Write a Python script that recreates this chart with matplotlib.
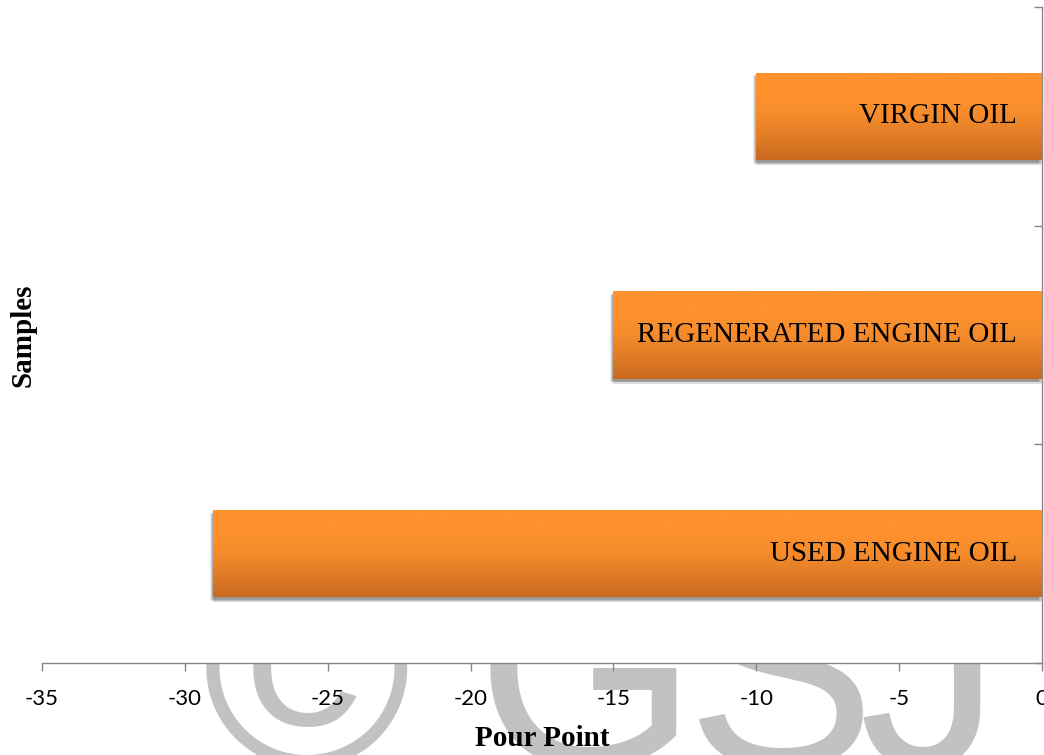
import numpy as np
import matplotlib.pyplot as plt
import matplotlib.patheffects as pe
from matplotlib.colors import LinearSegmentedColormap

# Pour point of each oil sample
samples = ["USED ENGINE OIL", "REGENERATED ENGINE OIL", "VIRGIN OIL"]
pour_point = [-29, -15, -10]
x_ticks = [-35, -30, -25, -20, -15, -10, -5, 0]

AXIS_GREY = "#868686"

fig = plt.figure(figsize=(10.44, 7.55), dpi=100)
ax = fig.add_axes([0.0402, 0.1219, 0.958, 0.8688])

# Journal watermark sitting behind the plot area
for ch, xc in zip(["\u00a9", "G", "S", "J"], [307, 586, 780, 930]):
    fig.text(xc / 1044, -11 / 755, ch, ha="center", va="baseline",
             fontsize=205, family="Liberation Sans", color="#c2c2c2", zorder=-1)

# Orange gradient, lighter on top, darker at the bottom
orange = LinearSegmentedColormap.from_list(
    "orange", ["#c9681f", "#e07c26", "#f58b2c", "#fe922d", "#fe922d"])
grad = np.linspace(0, 1, 256).reshape(-1, 1)

# Soft drop shadow built from a few offset copies
shadow = [pe.SimplePatchShadow(offset=(dx, dy), shadow_rgbFace="black", alpha=0.07)
          for dx, dy in [(-1.5, -1.5), (-1, -2), (0, -2.5), (-2, -2.5),
                         (-1, -3.5), (0.5, -3.5), (-2.5, -2)]]
shadow.append(pe.Normal())

pos = np.arange(len(samples)) + 0.5
bars = ax.barh(pos, pour_point, height=0.4, color="#f08a2a", linewidth=0, zorder=2)
for bar, name in zip(bars, samples):
    bar.set_path_effects(shadow)
    x0 = min(bar.get_x(), bar.get_x() + bar.get_width())
    x1 = max(bar.get_x(), bar.get_x() + bar.get_width())
    y0, h = bar.get_y(), bar.get_height()
    im = ax.imshow(grad, cmap=orange, extent=(x0, x1, y0, y0 + h), origin="lower",
                   aspect="auto", interpolation="bilinear", zorder=3)
    im.set_clip_path(bar)
    ax.annotate(name, xy=(0, y0 + h / 2), xytext=(-18, 0), textcoords="offset points",
                ha="right", va="center", fontsize=21, family="Liberation Serif",
                color="black", zorder=4)

ax.set_xlim(-35, 0)
ax.set_ylim(0, 3)
ax.set_xticks(x_ticks)
ax.set_xticklabels([str(t) for t in x_ticks], fontsize=16, family="Lato")

ax.yaxis.tick_right()
ax.set_yticks([0, 1, 2, 3])
ax.set_yticklabels([])
ax.tick_params(axis="y", direction="in", length=6, color=AXIS_GREY, width=1)
ax.tick_params(axis="x", direction="out", length=6, color=AXIS_GREY, width=1, pad=13)

for side in ["left", "top"]:
    ax.spines[side].set_visible(False)
for side in ["bottom", "right"]:
    ax.spines[side].set_color(AXIS_GREY)
    ax.spines[side].set_linewidth(1)

ax.set_xlabel("Pour Point", fontsize=21, fontweight="bold", family="Liberation Serif",
              labelpad=11)
ax.yaxis.set_label_position("left")
ax.set_ylabel("Samples", fontsize=21, fontweight="bold", family="Liberation Serif",
              labelpad=4)

fig.savefig("out.png", dpi=100)
